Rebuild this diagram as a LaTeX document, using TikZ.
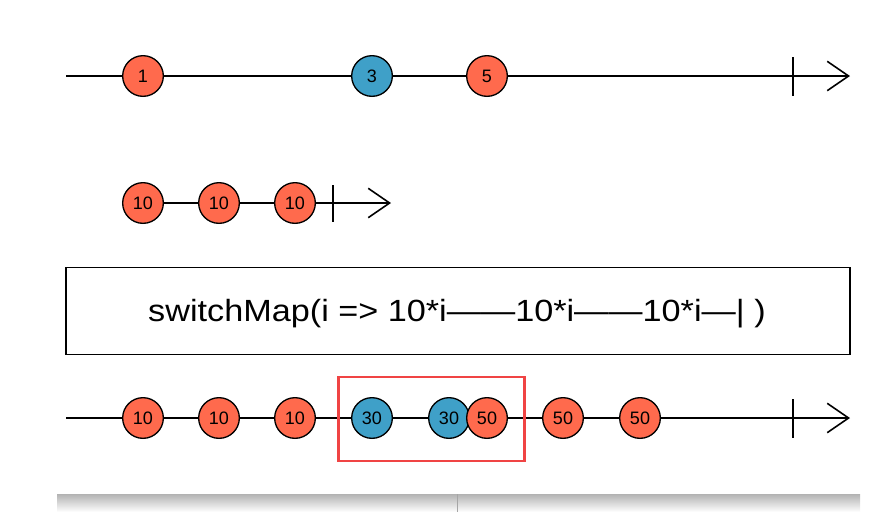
\documentclass[tikz,border=0pt]{standalone}
\usepackage{fontspec}
\usepackage{graphicx}
\setmainfont{Liberation Sans}
\usetikzlibrary{arrows.meta}
\definecolor{mred}{HTML}{FF6A4D}
\definecolor{mblue}{HTML}{3FA0C8}
\definecolor{hl}{HTML}{F04444}
\tikzset{
  axis/.style={line width=1.2pt, -{Straight Barb[length=16pt,width=22pt,line width=1.2pt]}},
  tickmark/.style={line width=1.2pt},
  marble/.style={circle, draw=black, line width=1pt, minimum size=30.5pt, inner sep=0pt, font=\fontsize{13.5}{15}\selectfont},
  rm/.style={marble, fill=mred},
  bm/.style={marble, fill=mblue},
}
\begin{document}
\begin{tikzpicture}[x=0.75pt,y=-0.75pt]
\useasboundingbox (0,0) rectangle (890,512);
% bottom shadow
\shade[top color=black!30, bottom color=white] (57,494) rectangle (860,512);
\draw[black!35, line width=0.5pt] (457,494) -- (457,512);
% row 1
\coordinate (s1) at (66,76);
\coordinate (e1) at (850,76);
\draw[axis] (s1) -- (e1);
\coordinate (t1a) at (793,57); \coordinate (t1b) at (793,96);
\draw[tickmark] (t1a) -- (t1b);
\node[rm] (a1) at (143,76) {1};
\node[bm] (a3) at (372,76) {3};
\node[rm] (a5) at (487,76) {5};
% row 2
\coordinate (e2) at (391,203);
\node[rm] (b1) at (143,203) {10};
\node[rm] (b2) at (219,203) {10};
\node[rm] (b3) at (295,203) {10};
\draw[line width=1.2pt] (b1) -- (b2);
\draw[line width=1.2pt] (b2) -- (b3);
\draw[axis] (b3) -- (e2);
\coordinate (t2a) at (333,185); \coordinate (t2b) at (333,222);
\draw[tickmark] (t2a) -- (t2b);
% operator box
\node[draw=black, line width=1pt, minimum width=588pt, minimum height=65pt, inner sep=0pt] (op) at (458,311) {};
\node[font=\fontsize{23}{27}\selectfont, inner sep=0pt] (optext) at (457,314) {\scalebox{1.116}[1]{switchMap(i => 10*i——10*i——10*i—| )}};
% row 4
\coordinate (s4) at (66,418);
\coordinate (e4) at (850,418);
\draw[axis] (s4) -- (e4);
\coordinate (t4a) at (793,399); \coordinate (t4b) at (793,438);
\draw[tickmark] (t4a) -- (t4b);
\node[rm] (c1) at (143,418) {10};
\node[rm] (c2) at (219,418) {10};
\node[rm] (c3) at (295,418) {10};
\node[bm] (c4) at (372,418) {30};
\node[bm] (c5) at (449,418) {30};
\node[rm] (c6) at (487,418) {50};
\node[rm] (c7) at (563,418) {50};
\node[rm] (c8) at (640,418) {50};
\node[draw=hl, line width=2.2pt, minimum width=140pt, minimum height=63pt, inner sep=0pt] (hlbox) at (431.5,419) {};
\end{tikzpicture}
\end{document}
